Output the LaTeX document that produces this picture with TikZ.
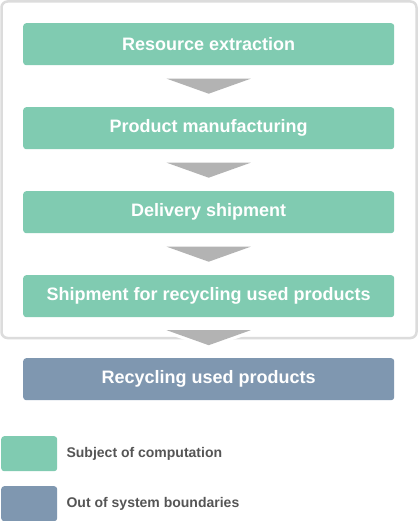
\documentclass[tikz,border=0pt]{standalone}
\usepackage{fontspec}
\setmainfont{Liberation Sans}
\definecolor{boxgreen}{HTML}{80CBB1}
\definecolor{boxblue}{HTML}{7F97B0}
\definecolor{arrowgray}{HTML}{B3B3B3}
\definecolor{framegray}{HTML}{DCDCDC}
\definecolor{legtext}{HTML}{555555}
\begin{document}
\begin{tikzpicture}[x=1pt,y=-1pt,
  stepbox/.style={rounded corners=3pt,minimum width=371pt,minimum height=42pt,inner sep=0pt,
    text=white,font=\bfseries\fontsize{18}{21}\selectfont,anchor=north west},
  swatch/.style={rounded corners=3pt,minimum width=56pt,minimum height=35pt,inner sep=0pt,anchor=north west},
  legendtext/.style={text=legtext,font=\bfseries\fontsize{14}{17}\selectfont,anchor=west,inner sep=0pt}]
\useasboundingbox (0,0) rectangle (418,521);
\fill[white] (0,0) rectangle (418,521);
\draw[framegray,line width=2.5pt,rounded corners=6pt] (1.5,1.5) rectangle (416.5,338);
\node[stepbox,fill=boxgreen] (b1) at (23,23) {Resource extraction};
\node[stepbox,fill=boxgreen] (b2) at (23,107) {Product manufacturing};
\node[stepbox,fill=boxgreen] (b3) at (23,191) {Delivery shipment};
\node[stepbox,fill=boxgreen] (b4) at (23,275) {Shipment for recycling used products};
\node[stepbox,fill=boxblue] (b5) at (23,358) {Recycling used products};
\foreach \a/\b in {b1/b2,b2/b3,b3/b4} {
  \path (\a.south) -- (\b.north) coordinate[pos=0.5] (m);
  \fill[arrowgray] ([shift={(-42,-7.5)}]m) -- ([shift={(42,-7.5)}]m) -- ([shift={(0,7.5)}]m) -- cycle;
}
\path (b4.south) -- (b5.north) coordinate[pos=0.5] (m4);
\fill[white] ([shift={(-58,-9)}]m4) -- ([shift={(58,-9)}]m4) -- ([shift={(0,10)}]m4) -- cycle;
\fill[arrowgray] ([shift={(-42,-7.5)}]m4) -- ([shift={(42,-7.5)}]m4) -- ([shift={(0,7.5)}]m4) -- cycle;
\node[swatch,fill=boxgreen] (s1) at (1,436) {};
\node[swatch,fill=boxblue] (s2) at (1,486) {};
\node[legendtext] (l1) at ([xshift=9pt]s1.east) {Subject of computation};
\node[legendtext] (l2) at ([xshift=9pt]s2.east) {Out of system boundaries};
\end{tikzpicture}
\end{document}
